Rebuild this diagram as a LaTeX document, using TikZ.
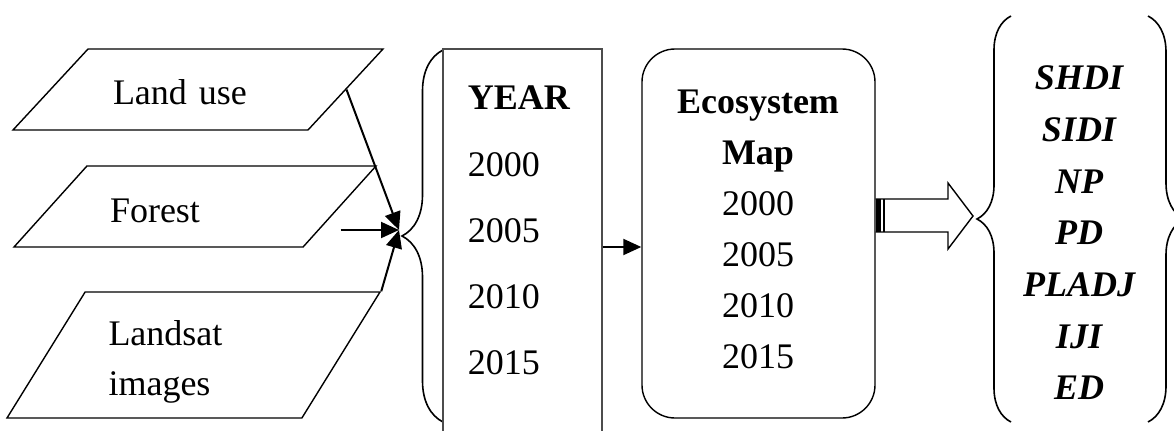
\documentclass[tikz,border=0pt]{standalone}
\usepackage{fontspec}
\setmainfont{Liberation Serif}
\usetikzlibrary{calc,shapes.geometric,decorations.pathreplacing,arrows.meta}
\tikzset{
	layer/.style={draw, shape=trapezium, trapezium stretches body, text width=85pt, align=left, inner sep=0pt},
	arr/.style={-{Triangle[length=9pt,width=8pt]}, line width=1pt},
	brc/.style={decorate, line width=0.8pt},
	txt/.style={inner sep=0pt},
}

\begin{document}
\begin{tikzpicture}[x=0.5pt, y=-0.5pt, line width=0.7pt, font=\fontsize{18}{25}\selectfont]
	%%%%% START %%%%%
	\useasboundingbox (0,0) rectangle (1174,430);

	\node[layer, trapezium left angle=47.2, trapezium right angle=132.8, text height=27.5pt, text depth=13pt, minimum width=185pt] (lu) at (198,89.5) {Land use};
	\node[layer, trapezium left angle=48, trapezium right angle=132, text height=28pt, text depth=12.5pt, minimum width=181pt] (fo) at (195,206.5) {Forest};
	\node[layer, trapezium left angle=58.2, trapezium right angle=121.8, text height=26.5pt, text depth=36.5pt, minimum width=186.5pt] (ls) at (193.5,355) {Landsat\\images};

	\coordinate (hub) at (399,230);
	\draw[arr] (lu.east) -- (hub);
	\draw[arr] (fo.east |- hub) -- (hub);
	\draw[arr] (ls.top right corner) -- (hub);

	\draw[brc, decoration={brace, amplitude=20.5pt}] (443,422) -- (443,50);
	\node[draw=black!70, minimum width=79.5pt, minimum height=198pt] (year) at (522.5,247) {};
	\node[txt, align=left, font=\fontsize{18}{33.1}\selectfont] (yeartxt) at (519,230.5) {\textbf{YEAR}\\2000\\2005\\2010\\2015};

	\node[draw, rounded corners=16.5pt, minimum width=116.5pt, minimum height=184.5pt] (eco) at (758.5,233.5) {};
	\node[txt, align=center, font=\fontsize{18}{25.5}\selectfont] (ecotxt) at (758,229.5) {\textbf{Ecosystem}\\\textbf{Map}\\2000\\2005\\2010\\2015};
	\draw[arr] (year.east) -- (year.east -| eco.west);

	\draw (eco.east |- 0,199) -- (948,199) -- (948,183) -- (973,216) -- (948,249) -- (948,232) -- (eco.east |- 0,232);
	\fill (eco.east |- 0,199) rectangle (881,232);
	\draw (884,199) -- (884,232);

	\draw[brc, decoration={brace, amplitude=17pt}] (1011,422) -- (1011,16);
	\draw[brc, decoration={brace, amplitude=18pt}] (1148,16) -- (1148,422);
	\node[txt, align=center, font=\fontsize{18}{25.83}\selectfont\bfseries\itshape] (idx) at (1079,233) {SHDI\\SIDI\\NP\\PD\\PLADJ\\IJI\\ED};

	%%%%% END %%%%%
\end{tikzpicture}
\end{document}
